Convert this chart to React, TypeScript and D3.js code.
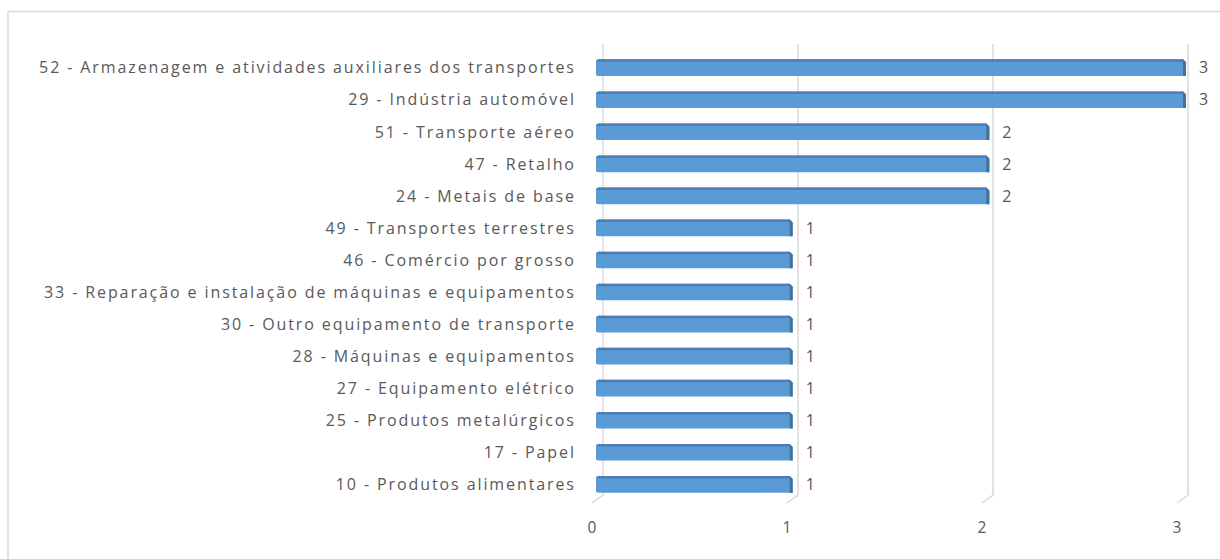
import React from "react";
import * as d3 from "d3";

const categories = [
  "52 - Armazenagem e atividades auxiliares dos transportes",
  "29 - Indústria automóvel",
  "51 - Transporte aéreo",
  "47 - Retalho",
  "24 - Metais de base",
  "49 - Transportes terrestres",
  "46 - Comércio por grosso",
  "33 - Reparação e instalação de máquinas e equipamentos",
  "30 - Outro equipamento de transporte",
  "28 - Máquinas e equipamentos",
  "27 - Equipamento elétrico",
  "25 - Produtos metalúrgicos",
  "17 - Papel",
  "10 - Produtos alimentares",
];
const values = [3, 3, 2, 2, 2, 1, 1, 1, 1, 1, 1, 1, 1, 1];
const ticks = [0, 1, 2, 3];

const W = 1220;
const H = 559;

export default function App() {
  const xBar = d3.scaleLinear().domain([0, 3]).range([596, 1186]);
  const xGrid = d3.scaleLinear().domain([0, 3]).range([603, 1188]);
  const xFloor = d3.scaleLinear().domain([0, 3]).range([592, 1177]);
  const y = d3.scaleBand().domain(categories).range([51, 501]).paddingInner(0.48).paddingOuter(0.26);
  const gridTop = 44;
  const gridBottom = 495;
  const depth = 3;
  const textColor = "#595959";
  const font = "'Open Sans', 'Segoe UI', sans-serif";
  const ls = 1.9;

  return (
    <svg width={W} height={H} style={{ position: "absolute", left: 0, top: 0 }}>
      <rect x={0} y={0} width={W} height={H} fill="#fff" />
      <rect x={8} y={11.5} width={W + 10} height={H + 10} fill="#fff" stroke="#d9d9d9" strokeWidth={1.5} />
      {ticks.map((t) => (
        <g key={t}>
          <polyline
            points={`${xGrid(t)},${gridTop} ${xGrid(t)},${gridBottom} ${xFloor(t)},${gridBottom + 8}`}
            fill="none"
            stroke="#d9d9d9"
            strokeWidth={1.5}
          />
          <text x={xFloor(t)} y={533} textAnchor="middle" fontFamily={font} fontSize={15.5} fill={textColor}>
            {t}
          </text>
        </g>
      ))}
      {categories.map((c, i) => {
        const v = values[i];
        const y0 = y(c)!;
        const bh = y.bandwidth();
        const x0 = xBar(0);
        const x1 = xBar(v);
        return (
          <g key={c}>
            <text
              x={574 + ls}
              y={y0 + bh / 2}
              dy="0.36em"
              textAnchor="end"
              fontFamily={font}
              fontSize={16}
              letterSpacing={ls}
              fill={textColor}
            >
              {c}
            </text>
            <path
              d={`M${x0 + 2},${y0} L${x1 - depth},${y0} L${x1},${y0 + depth} L${x1},${y0 + bh} L${x0 + 2},${y0 + bh} Q${x0},${y0 + bh} ${x0},${y0 + bh - 2} L${x0},${y0 + 2} Q${x0},${y0} ${x0 + 2},${y0} Z`}
              fill="#5b9bd5"
            />
            <path
              d={`M${x0 + 2},${y0} L${x1 - depth},${y0} L${x1 - depth + 1},${y0 + 2.5} L${x0 + 1},${y0 + 2.5} Z`}
              fill="#4a7fb5"
            />
            <path
              d={`M${x1 - depth},${y0} L${x1},${y0 + depth} L${x1},${y0 + bh} L${x1 - depth},${y0 + bh} Z`}
              fill="#41719c"
            />
            <text
              x={x1 + 13}
              y={y0 + bh / 2}
              dy="0.36em"
              textAnchor="start"
              fontFamily={font}
              fontSize={16}
              fill={textColor}
            >
              {v}
            </text>
          </g>
        );
      })}
    </svg>
  );
}
